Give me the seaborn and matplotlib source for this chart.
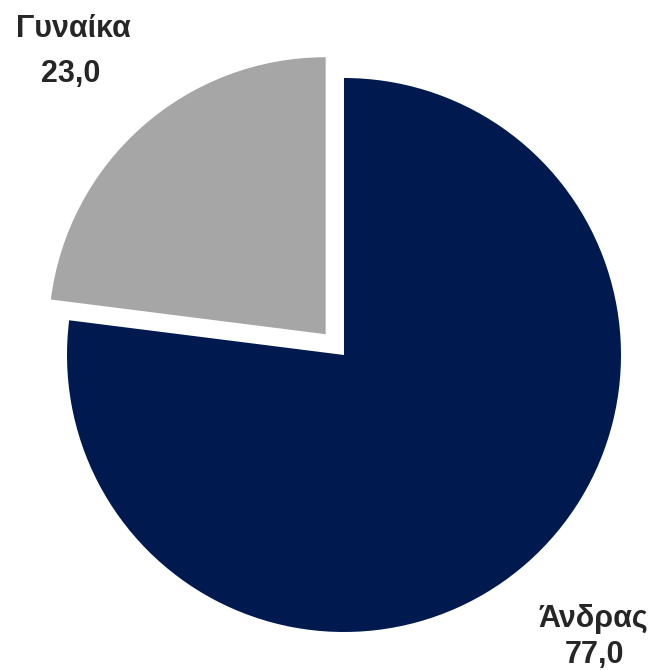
import matplotlib
matplotlib.use("Agg")
import matplotlib.pyplot as plt
import seaborn as sns

#%% data
labels = ["Άνδρας", "Γυναίκα"]
values = [77.0, 23.0]
explode = [0.0, 0.1]
colors = ["#001a50", "#a6a6a6"]

#%% style
sns.set_theme(style="white")
plt.rcParams["font.family"] = ["Liberation Sans Narrow", "Liberation Sans", "DejaVu Sans"]

W, H = 654, 670
fig = plt.figure(figsize=(W / 100, H / 100), dpi=100)

# pie centre (344, 355) px, radius 277 px, axes limits -1.25..1.25
cx, cy, r = 344, 355, 277
aw, ah = 2.5 * r / W, 2.5 * r / H
ax = fig.add_axes([cx / W - aw / 2, 1 - cy / H - ah / 2, aw, ah])

ax.pie(values, colors=colors, explode=explode, startangle=90, counterclock=False,
       radius=1.0, wedgeprops=dict(linewidth=0))
ax.set_xlim(-1.25, 1.25)
ax.set_ylim(-1.25, 1.25)
ax.set_aspect("equal")
ax.axis("off")

#%% labels (name + value), pixel positions of baselines
label_pos = {"Άνδρας": ((593, 627), (594, 663)),
             "Γυναίκα": ((73, 37), (71, 82))}
for name, val in zip(labels, values):
    (nx, ny), (vx, vy) = label_pos[name]
    fig.text(nx / W, 1 - ny / H, name, ha="center", va="baseline",
             fontsize=22, fontweight="bold", color="#262626")
    fig.text(vx / W, 1 - vy / H, f"{val:.1f}".replace(".", ","), ha="center", va="baseline",
             fontsize=22, fontweight="bold", color="#262626")

fig.savefig("out.png", dpi=100)
